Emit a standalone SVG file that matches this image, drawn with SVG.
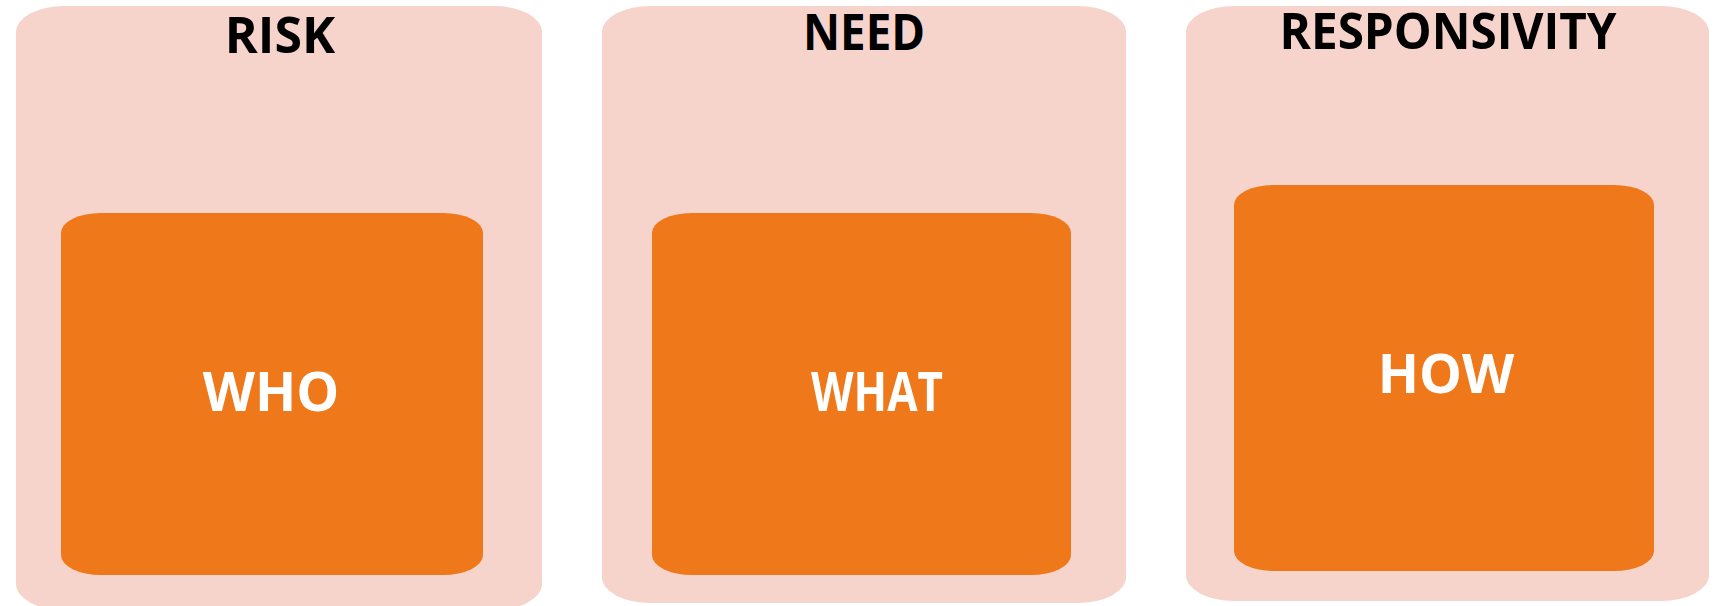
<svg xmlns="http://www.w3.org/2000/svg" width="1726" height="606" viewBox="0 0 1726 606">
<style>
.outer{fill:#F7D4CB}
.inner{fill:#EF781A}
.title{font-family:"Open Sans","Liberation Sans",sans-serif;font-weight:700;font-size:50px;fill:#000;text-anchor:middle}
.label{font-family:"Open Sans","Liberation Sans",sans-serif;font-weight:700;font-size:54px;fill:#fff;text-anchor:middle}
</style>
<rect width="1726" height="606" fill="#fff"/>
<g id="risk">
<rect class="outer" x="16" y="6" width="526" height="604" rx="48" ry="26"/>
<text class="title" x="280" y="53">RISK</text>
</g>
<g id="who">
<rect class="inner" x="61" y="213" width="422" height="362" rx="40" ry="20"/>
<text class="label" x="271" y="411">WHO</text>
</g>
<g id="need">
<rect class="outer" x="602" y="6" width="524" height="597" rx="48" ry="26"/>
<text class="title" x="864" y="50" textLength="122" lengthAdjust="spacingAndGlyphs">NEED</text>
</g>
<g id="what">
<rect class="inner" x="652" y="213" width="419" height="362" rx="40" ry="20"/>
<text class="label" x="877" y="411" textLength="132" lengthAdjust="spacingAndGlyphs">WHAT</text>
</g>
<g id="responsivity">
<rect class="outer" x="1186" y="6" width="523" height="595" rx="48" ry="26"/>
<text class="title" x="1448" y="49" textLength="337" lengthAdjust="spacingAndGlyphs">RESPONSIVITY</text>
</g>
<g id="how">
<rect class="inner" x="1234" y="185" width="420" height="386" rx="40" ry="20"/>
<text class="label" x="1446" y="393">HOW</text>
</g>
<g id="connectors"></g>
</svg>
